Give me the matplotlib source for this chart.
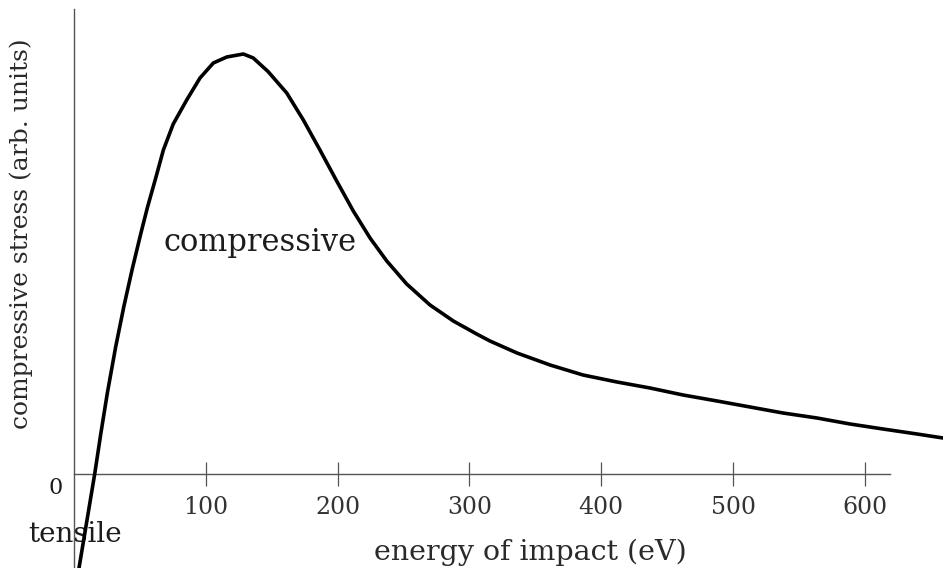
import numpy as np
import matplotlib
matplotlib.use("Agg")
import matplotlib.pyplot as plt

# energy of impact (eV) and stress (arb. units)
energy = [3.8, 15.7, 20.3, 25.3, 31.6, 37.9, 44.2, 50.6, 55.6, 62.0, 67.8,
          75.3, 85.5, 95.6, 105.7, 115.9, 128.5, 136.0, 147.2, 161.4, 174.0,
          186.6, 199.3, 211.9, 224.6, 237.3, 252.4, 270.1, 287.8, 305.5,
          315.6, 336.1, 361.2, 386.2, 412.0, 437.0, 462.1, 487.9, 512.9,
          537.9, 563.7, 588.8, 613.8, 639.6, 659.3]
stress = [-0.94, 0.0, 0.40, 0.81, 1.27, 1.68, 2.05, 2.40, 2.66, 2.96, 3.24,
          3.50, 3.74, 3.96, 4.11, 4.17, 4.20, 4.16, 4.025, 3.81, 3.54,
          3.24, 2.93, 2.63, 2.36, 2.13, 1.90, 1.69, 1.53, 1.40,
          1.33, 1.21, 1.09, 0.99, 0.92, 0.86, 0.79, 0.73, 0.67,
          0.61, 0.56, 0.50, 0.45, 0.40, 0.36]
xticks = [100, 200, 300, 400, 500, 600]

serif = "DejaVu Serif"
ink = "#1c1c1c"

fig = plt.figure(figsize=(9.43, 5.68), dpi=100)
ax = fig.add_axes([74 / 943, 0, 869 / 943, 1])
ax.set_xlim(0, 659.3)
ax.set_ylim(-0.94, 4.74)

ax.plot(energy, stress, color="black", lw=2.6, solid_capstyle="round",
        solid_joinstyle="round", zorder=3)

for s in ["top", "right"]:
    ax.spines[s].set_visible(False)
ax.spines["bottom"].set_position(("data", 0))
ax.spines["bottom"].set_bounds(0, 619)
ax.spines["left"].set_bounds(-0.94, 4.65)
for s in ["bottom", "left"]:
    ax.spines[s].set_color("#555555")
    ax.spines[s].set_linewidth(1.0)

ax.set_xticks(xticks)
ax.set_xticklabels([str(t) for t in xticks], fontfamily=serif, fontsize=17,
                   color="#333333")
ax.tick_params(axis="x", direction="inout", length=17, width=0.9,
               color="#555555", pad=7)
ax.set_yticks([])

ax.text(-14, -0.14, "0", fontfamily=serif, fontsize=16, ha="center",
        va="center", color=ink)

ax.text(141, 2.31, "compressive", fontfamily=serif, fontsize=22,
        ha="center", va="center", color=ink, zorder=2)
ax.text(1, -0.61, "tensile", fontfamily=serif, fontsize=20,
        ha="center", va="center", color=ink, zorder=2)

ax.set_xlabel("energy of impact (eV)", fontfamily=serif, fontsize=20.5,
              color="#2a2a2a")
ax.xaxis.set_label_coords(0.525, 0.051)
ax.set_ylabel("compressive stress (arb. units)", fontfamily=serif,
              fontsize=18, color="#2a2a2a", va="center")
ax.yaxis.set_label_coords(-0.061, 0.588)

fig.savefig("out.png", dpi=100)
